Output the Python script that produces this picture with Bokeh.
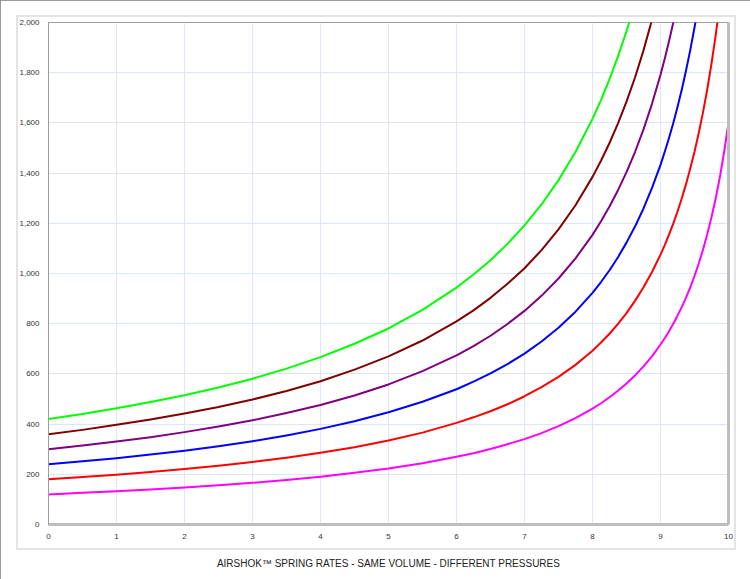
from bokeh.plotting import figure
from bokeh.models import Range1d, NumeralTickFormatter, LinearAxis, InlineStyleSheet
from bokeh.embed import file_html
from bokeh.resources import INLINE

# travel positions (shared x values; denser where the curves get steep)
travel = [0, 0.5, 1, 1.5, 2, 2.5, 3, 3.5, 4, 4.5, 5, 5.5, 6,
          6.25, 6.5, 6.75, 7, 7.25, 7.5, 7.75, 8,
          8.125, 8.25, 8.375, 8.5, 8.625, 8.75, 8.875, 9,
          9.0625, 9.125, 9.1875, 9.25, 9.3125, 9.375, 9.4375, 9.5,
          9.5625, 9.625, 9.6875, 9.75, 9.8125, 9.875, 9.9375, 10]

# spring rates (curves end where they leave the 2,000 top)
rate_green = [420, 440, 463, 488, 515, 546, 581, 621, 667, 720, 781, 855, 944,
              996, 1053, 1118, 1192, 1275, 1372, 1484, 1616,
              1691, 1774, 1865, 1965, 2078]
rate_brown = [360, 377, 397, 418, 442, 468, 498, 532, 571, 617, 670, 733, 809,
              853, 903, 959, 1021, 1093, 1176, 1272, 1385,
              1449, 1520, 1598, 1685, 1781, 1889, 2011]
rate_purple = [300, 315, 331, 348, 368, 390, 415, 444, 476, 514, 558, 611, 674,
               711, 752, 799, 851, 911, 980, 1060, 1154,
               1208, 1267, 1332, 1404, 1484, 1574, 1676, 1792,
               1856, 1925, 1999, 2079]
rate_blue = [240, 252, 264, 279, 294, 312, 332, 355, 381, 411, 447, 489, 539,
             569, 602, 639, 681, 729, 784, 848, 923,
             966, 1013, 1065, 1123, 1187, 1259, 1341, 1433,
             1485, 1540, 1599, 1663, 1732, 1808, 1890, 1980,
             2080]
rate_red = [180, 189, 198, 209, 221, 234, 249, 266, 286, 308, 335, 366, 405,
            427, 451, 479, 511, 547, 588, 636, 692,
            725, 760, 799, 842, 891, 945, 1006, 1075,
            1113, 1155, 1199, 1247, 1299, 1356, 1418, 1485,
            1560, 1642, 1733, 1836, 1951, 2081]
rate_magenta = [120, 126, 132, 139, 147, 156, 166, 177, 190, 206, 223, 244, 270,
                284, 301, 320, 340, 364, 392, 424, 462,
                483, 507, 533, 562, 594, 630, 670, 717,
                742, 770, 800, 832, 866, 904, 945, 990,
                1040, 1095, 1156, 1224, 1300, 1387, 1487, 1601]

series = [
    (rate_green, "#00ff00"),
    (rate_brown, "#800000"),
    (rate_purple, "#800080"),
    (rate_blue, "#0000ff"),
    (rate_red, "#ff0000"),
    (rate_magenta, "#ff00ff"),
]

x_ticks = list(range(0, 11))
y_ticks = list(range(0, 2001, 200))
title_text = "AIRSHOK\u2122 SPRING RATES - SAME VOLUME - DIFFERENT PRESSURES"

FONT = "Liberation Sans"

p = figure(width=750, height=579, output_backend="svg", toolbar_location=None,
           x_range=Range1d(0, 10), y_range=Range1d(0, 2000),
           min_border_left=48, min_border_right=22, min_border_top=22, min_border_bottom=55)

p.background_fill_color = "white"
p.border_fill_color = "white"
p.outline_line_color = "#a0a0a0"
p.outline_line_width = 1

for vals, col in series:
    p.line(travel[:len(vals)], vals, line_color=col, line_width=2, line_join="round")

# grids
for g in (p.xgrid, p.ygrid):
    g.grid_line_color = "#dde5fa"
    g.grid_line_width = 1

# axes
xa = p.xaxis[0]
xa.ticker = x_ticks
xa.axis_label = title_text
xa.axis_label_text_font = FONT
xa.axis_label_text_font_style = "normal"
xa.axis_label_text_font_size = "10px"
xa.axis_label_text_color = "#222222"
xa.axis_label_standoff = 16
xa.major_label_standoff = 3

ya = p.yaxis[0]
ya.ticker = y_ticks
ya.formatter = NumeralTickFormatter(format="0,0")
ya.major_label_standoff = 3

for ax in (xa, ya):
    ax.major_tick_line_color = None
    ax.minor_tick_line_color = None
    ax.major_label_text_font = FONT
    ax.major_label_text_font_size = "8px"
    ax.major_label_text_color = "#333333"

ya.axis_line_color = "#9c9c9c"
ya.axis_line_width = 1
xa.axis_line_color = "#bdbdbd"
xa.axis_line_width = 3

ra = LinearAxis(ticker=[], axis_line_color="#bdbdbd", axis_line_width=3,
                major_tick_line_color=None, minor_tick_line_color=None,
                major_label_text_font_size="0px")
p.add_layout(ra, "right")

# outer chart border and light inner panel border (page decoration)
p.styles = {"outline": "1.5px solid #7a7a7a", "outline-offset": "-1.5px",
            "position": "relative"}
p.stylesheets = [InlineStyleSheet(css="""
:host::after {
  content: "";
  position: absolute;
  left: 16px; top: 15px; width: 716px; height: 531px;
  border: 2px solid #e4e4e4;
  pointer-events: none;
}
""")]

open("out.html", "w").write(file_html(p, INLINE))
